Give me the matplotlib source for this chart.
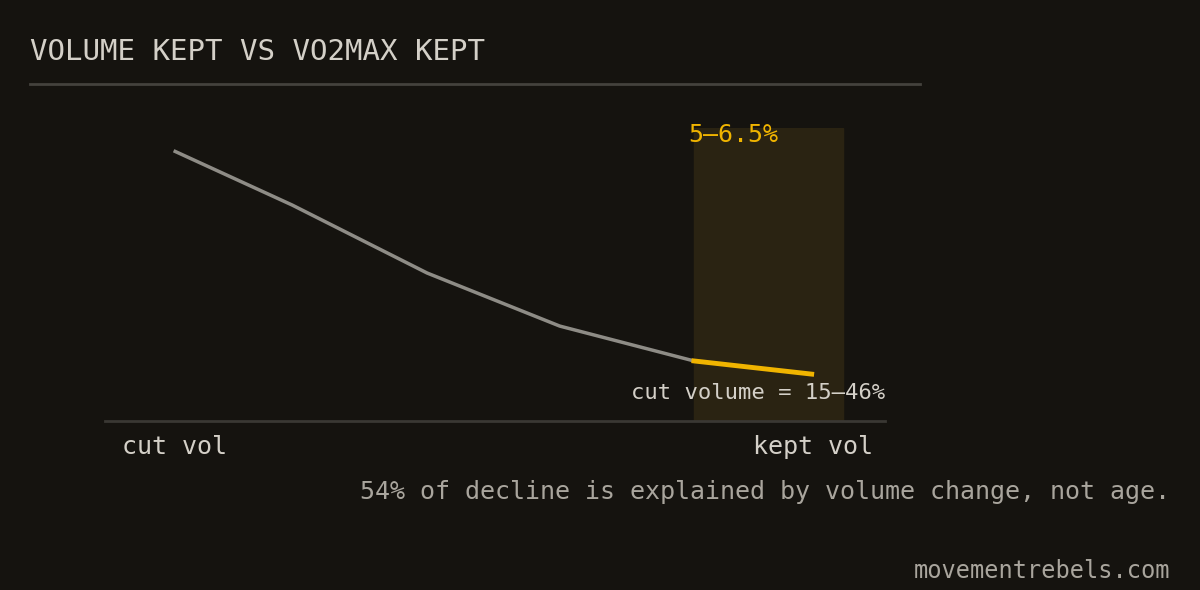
import matplotlib
matplotlib.use("Agg")
import matplotlib.pyplot as plt

# volume kept (fraction of axis) vs vo2max kept (fraction of axis)
vol_kept = [0.09, 0.24, 0.413, 0.583, 0.755, 0.906]
vo2_kept = [0.92, 0.737, 0.505, 0.324, 0.205, 0.16]
band = (0.755, 0.946)

BG = "#15130f"
TXT = "#d4d0c8"
DIM = "#a9a59d"
YEL = "#f0b400"
MONO = "DejaVu Sans Mono"

fig = plt.figure(figsize=(12, 5.9), dpi=100, facecolor=BG)
ax = fig.add_axes([105 / 1200, 1 - 421 / 590, 780 / 1200, 293 / 590])
ax.set_facecolor(BG)
ax.set_xlim(0, 1)
ax.set_ylim(0, 1)
for s in ax.spines.values():
    s.set_visible(False)
ax.spines["bottom"].set_visible(True)
ax.spines["bottom"].set_color("#3a3833")
ax.spines["bottom"].set_linewidth(2)
ax.set_xticks([]); ax.set_yticks([])

ax.axvspan(*band, color="#2a2312", zorder=0)
ax.plot(vol_kept[:5], vo2_kept[:5], color="#8e8c86", lw=2.5, zorder=2)
ax.plot(vol_kept[4:], vo2_kept[4:], color=YEL, lw=3.5, zorder=3)

ax.text(sum(band) / 2 - 0.045, 0.975, "5–6.5%", color=YEL, fontsize=18,
        family=MONO, ha="center", va="center")
ax.text(1.0, 0.095, "cut volume = 15–46%", color=TXT, fontsize=16,
        family=MONO, ha="right", va="center")

fig.text(30 / 1200, 1 - 52 / 590, "VOLUME KEPT VS VO2MAX KEPT", color=TXT,
         fontsize=21, family=MONO, va="center")
fig.add_artist(plt.Line2D([30 / 1200, 920 / 1200], [1 - 84 / 590] * 2,
                          color="#44423d", lw=2))
fig.text(122 / 1200, 1 - 447 / 590, "cut vol", color=TXT, fontsize=18,
         family=MONO, va="center")
fig.text(873 / 1200, 1 - 447 / 590, "kept vol", color=TXT, fontsize=18,
         family=MONO, va="center", ha="right")
fig.text(1170 / 1200, 1 - 492 / 590,
         "54% of decline is explained by volume change, not age.",
         color=DIM, fontsize=18, family=MONO, va="center", ha="right")
fig.text(1170 / 1200, 1 - 571 / 590, "movementrebels.com", color=DIM,
         fontsize=17, family=MONO, va="center", ha="right")

fig.savefig("out.png", dpi=100, facecolor=BG)
